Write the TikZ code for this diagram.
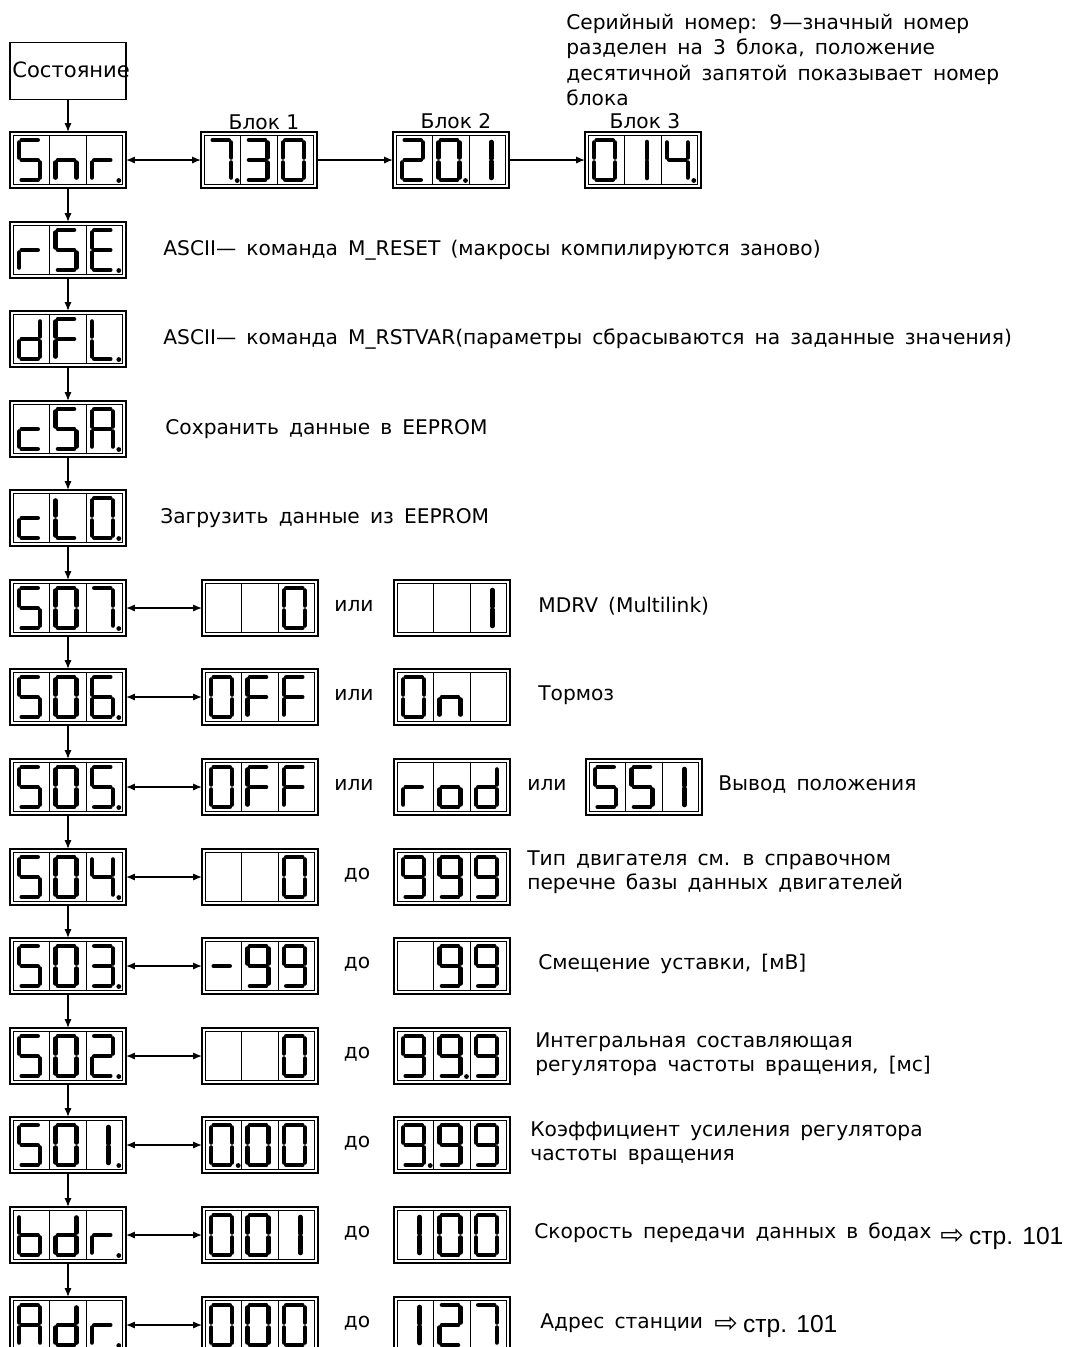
\documentclass[tikz,border=0pt]{standalone}
\usepackage{fontspec}
\setmainfont{DejaVu Sans}
\newfontfamily\arialf{Liberation Sans}
\usetikzlibrary{arrows.meta}
\newcommand\widesp{\spaceskip=0.5em plus 0.1em\relax}
\tikzset{
 seg/.style={line width=2.6pt, line cap=round},
 dispbox/.style={draw, line width=1.2pt, minimum width=2.32cm, minimum height=1.12cm, inner sep=0pt, outer sep=0pt},
 innerln/.style={line width=0.7pt},
 arr/.style={line width=0.8pt, -{Latex[length=5pt,width=4pt]}},
 darr/.style={line width=0.8pt, {Latex[length=5pt,width=4pt]}-{Latex[length=5pt,width=4pt]}},
 txt/.style={anchor=west, inner sep=0pt, font=\fontsize{11.5}{13.7}\selectfont\widesp},
 mtxt/.style={txt, align=left},
 lbl/.style={inner sep=0pt, font=\fontsize{11.5}{13.7}\selectfont},
 pagef/.style={anchor=west, inner sep=0pt, font=\fontsize{16}{16}\selectfont},
}
% segments (digit-centre coordinates, y downwards)
\newcommand\sga{\draw[seg] (-8,-20) -- (8,-20);}
\newcommand\sgb{\draw[seg] (10.5,-17.5) -- (10.5,-2.5);}
\newcommand\sgc{\draw[seg] (10.5,2.5) -- (10.5,17.5);}
\newcommand\sgd{\draw[seg] (-8,20) -- (8,20);}
\newcommand\sge{\draw[seg] (-10.5,2.5) -- (-10.5,17.5);}
\newcommand\sgf{\draw[seg] (-10.5,-17.5) -- (-10.5,-2.5);}
\newcommand\sgg{\draw[seg] (-8,0) -- (8,0);}
\newcommand\sgi{\draw[seg] (6,-18) -- (6,-1.5) (6,1.5) -- (6,18);}
\newcommand\sgp{\fill (16.5,20.5) circle (2.4);}
\newcommand\sgx{}
% characters
\newcommand\dgS{a,c,d,f,g}
\newcommand\dgn{c,e,g}
\newcommand\dgr{e,g}
\newcommand\dgE{a,d,e,f,g}
\newcommand\dgd{b,c,d,e,g}
\newcommand\dgF{a,e,f,g}
\newcommand\dgL{d,e,f}
\newcommand\dgc{d,e,g}
\newcommand\dgA{a,b,c,e,f,g}
\newcommand\dgo{c,d,e,g}
\newcommand\dgb{c,d,e,f,g}
\newcommand\dgMinus{g}
\newcommand\dgZero{a,b,c,d,e,f}
\newcommand\dgOne{i}
\newcommand\dgTwo{a,b,d,e,g}
\newcommand\dgThree{a,b,c,d,g}
\newcommand\dgFour{b,c,f,g}
\newcommand\dgSix{a,c,d,e,f,g}
\newcommand\dgSeven{a,b,c}
\newcommand\dgNine{a,b,c,d,f,g}
\newcommand\dgBlank{x}
\newcommand\digit[2]{%
  \begin{scope}[shift={(#1,0)}]
    \edef\dlist{#2}%
    \foreach \s in \dlist {\csname sg\s\endcsname}
  \end{scope}}
\newcommand\disp[6]{%
  \node[dispbox] (#1) at (#2,#3) {};
  \begin{scope}[shift={(#2,#3)}]
    \draw[innerln] (-54.5,-24.5) rectangle (54.5,24.5);
    \draw[innerln] (-18.2,-24.5) -- (-18.2,24.5) (18.2,-24.5) -- (18.2,24.5);
    \digit{-38.3}{#4}\digit{-2}{#5}\digit{34.3}{#6}
  \end{scope}}
\begin{document}
\begin{tikzpicture}[x=0.02cm, y=-0.02cm]
\useasboundingbox[fill=white] (0,0) rectangle (1081,1347);

% state box
\node[draw, line width=0.6pt, minimum width=2.32cm, minimum height=1.14cm, inner sep=0pt, outer sep=0pt] (state) at (68,71) {};
\node[anchor=west, inner sep=0pt, font=\fontsize{12}{14}\selectfont] (statelbl) at (12,70) {Состояние};

% left column
\disp{snr}{68}{160}{\dgS}{\dgn}{\dgr,p}
\disp{rse}{68}{250}{\dgr}{\dgS}{\dgE,p}
\disp{dfl}{68}{339}{\dgd}{\dgF}{\dgL,p}
\disp{csa}{68}{429}{\dgc}{\dgS}{\dgA,p}
\disp{clo}{68}{518}{\dgc}{\dgL}{\dgZero,p}
\disp{sseven}{68}{608}{\dgS}{\dgZero}{\dgSeven,p}
\disp{ssix}{68}{697}{\dgS}{\dgZero}{\dgSix,p}
\disp{sfive}{68}{787}{\dgS}{\dgZero}{\dgS,p}
\disp{sfour}{68}{877}{\dgS}{\dgZero}{\dgFour,p}
\disp{sthree}{68}{966}{\dgS}{\dgZero}{\dgThree,p}
\disp{stwo}{68}{1056}{\dgS}{\dgZero}{\dgTwo,p}
\disp{sone}{68}{1145}{\dgS}{\dgZero}{\dgOne,p}
\disp{bdr}{68}{1235}{\dgb}{\dgd}{\dgr,p}
\disp{adr}{68}{1325}{\dgA}{\dgd}{\dgr,p}

% serial number blocks
\disp{bone}{259}{160}{\dgSeven,p}{\dgThree}{\dgZero}
\disp{btwo}{451}{160}{\dgTwo}{\dgZero,p}{\dgOne}
\disp{bthree}{643}{160}{\dgZero}{\dgOne}{\dgFour,p}
\node[lbl] (lone) at (264,122) {Блок 1};
\node[lbl] (ltwo) at (456,121) {Блок 2};
\node[lbl] (lthree) at (645,121) {Блок 3};

% value displays
\disp{sevenm}{260}{608}{\dgBlank}{\dgBlank}{\dgZero}
\disp{sevent}{452}{608}{\dgBlank}{\dgBlank}{\dgOne}
\disp{sixm}{260}{697}{\dgZero}{\dgF}{\dgF}
\disp{sixt}{452}{697}{\dgZero}{\dgn}{\dgBlank}
\disp{fivem}{260}{787}{\dgZero}{\dgF}{\dgF}
\disp{fivet}{452}{787}{\dgr}{\dgo}{\dgd}
\disp{fivef}{644}{787}{\dgS}{\dgS}{\dgOne}
\disp{fourm}{260}{877}{\dgBlank}{\dgBlank}{\dgZero}
\disp{fourt}{452}{877}{\dgNine}{\dgNine}{\dgNine}
\disp{threem}{260}{966}{\dgMinus}{\dgNine}{\dgNine}
\disp{threet}{452}{966}{\dgBlank}{\dgNine}{\dgNine}
\disp{twom}{260}{1056}{\dgBlank}{\dgBlank}{\dgZero}
\disp{twot}{452}{1056}{\dgNine}{\dgNine,p}{\dgNine}
\disp{onem}{260}{1145}{\dgZero,p}{\dgZero}{\dgZero}
\disp{onet}{452}{1145}{\dgNine,p}{\dgNine}{\dgNine}
\disp{bdrm}{260}{1235}{\dgZero}{\dgZero}{\dgOne}
\disp{bdrt}{452}{1235}{\dgOne}{\dgZero}{\dgZero}
\disp{adrm}{260}{1325}{\dgZero}{\dgZero}{\dgZero}
\disp{adrt}{452}{1325}{\dgOne}{\dgTwo}{\dgSeven}

% "или" / "до"
\node[lbl] (orseven) at (354,606) {или};
\node[lbl] (orsix) at (354,695) {или};
\node[lbl] (orfivea) at (354,785) {или};
\node[lbl] (orfiveb) at (547,785) {или};
\node[lbl] (tofour) at (357,875) {до};
\node[lbl] (tothree) at (357,964) {до};
\node[lbl] (totwo) at (357,1054) {до};
\node[lbl] (toone) at (357,1143) {до};
\node[lbl] (tobdr) at (357,1233) {до};
\node[lbl] (toadr) at (357,1323) {до};

% descriptions
\node[mtxt, font=\fontsize{11.5}{14.4}\selectfont\widesp] (serial) at (566,60) {Серийный номер: 9—значный номер\\разделен на 3 блока, положение\\десятичной запятой показывает номер\\блока};
\node[txt] (drse) at (163,250) {ASCII— команда M\_RESET (макросы компилируются заново)};
\node[txt] (ddfl) at (163,339) {ASCII— команда M\_RSTVAR(параметры сбрасываются на заданные значения)};
\node[txt] (dcsa) at (165,429) {Сохранить данные в EEPROM};
\node[txt] (dclo) at (160,518) {Загрузить данные из EEPROM};
\node[txt] (dseven) at (538,606) {MDRV (Multilink)};
\node[txt] (dsix) at (538,695) {Тормоз};
\node[txt] (dfive) at (718,785) {Вывод положения};
\node[mtxt] (dfour) at (527,872) {Тип двигателя см. в справочном\\перечне базы данных двигателей};
\node[txt] (dthree) at (538,964) {Смещение уставки, [мВ]};
\node[mtxt] (dtwo) at (535,1054) {Интегральная составляющая\\регулятора частоты вращения, [мс]};
\node[mtxt] (done) at (530,1143) {Коэффициент усиления регулятора\\частоты вращения};
\node[txt] (dbdr) at (534,1233) {Скорость передачи данных в бодах};
\node[pagef] (pbdr) at (940,1238) {⇨\hspace{3pt}{\arialf\fontsize{14}{16}\selectfont стр. 101}};
\node[txt] (dadr) at (540,1323) {Адрес станции};
\node[pagef] (padr) at (714,1326) {⇨\hspace{3pt}{\arialf\fontsize{14}{16}\selectfont стр. 101}};

% connectors
\draw[arr] (state) -- (snr);
\draw[arr] (snr) -- (rse);
\draw[arr] (rse) -- (dfl);
\draw[arr] (dfl) -- (csa);
\draw[arr] (csa) -- (clo);
\draw[arr] (clo) -- (sseven);
\draw[arr] (sseven) -- (ssix);
\draw[arr] (ssix) -- (sfive);
\draw[arr] (sfive) -- (sfour);
\draw[arr] (sfour) -- (sthree);
\draw[arr] (sthree) -- (stwo);
\draw[arr] (stwo) -- (sone);
\draw[arr] (sone) -- (bdr);
\draw[arr] (bdr) -- (adr);

\draw[darr] (snr) -- (bone);
\draw[arr] (bone) -- (btwo);
\draw[arr] (btwo) -- (bthree);
\draw[darr] (sseven) -- (sevenm);
\draw[darr] (ssix) -- (sixm);
\draw[darr] (sfive) -- (fivem);
\draw[darr] (sfour) -- (fourm);
\draw[darr] (sthree) -- (threem);
\draw[darr] (stwo) -- (twom);
\draw[darr] (sone) -- (onem);
\draw[darr] (bdr) -- (bdrm);
\draw[darr] (adr) -- (adrm);
\end{tikzpicture}
\end{document}
